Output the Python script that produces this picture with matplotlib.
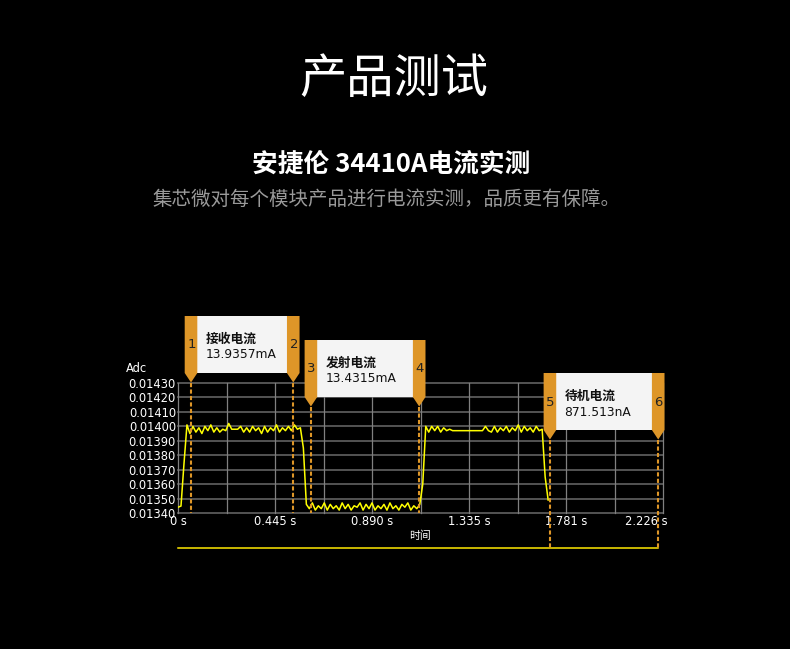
import numpy as np
import matplotlib
matplotlib.use("Agg")
import matplotlib.pyplot as plt
from matplotlib.patches import Polygon, Rectangle
from matplotlib.lines import Line2D

plt.rcParams['font.family'] = ['Noto Sans CJK SC', 'DejaVu Sans']
NUM_FONT = ['DejaVu Sans', 'Noto Sans CJK SC']

# ---------------- data ----------------
title = "产品测试"
subtitle = "安捷伦 34410A电流实测"
caption = "集芯微对每个模块产品进行电流实测，品质更有保障。"

sample_step_s = 0.0137
pre_rise = [0.013440, 0.013448, 0.013740]
receive_high = [0.01401, 0.01395, 0.01400, 0.01396, 0.01399, 0.01395, 0.01400, 0.01397, 0.01401, 0.01396,
                0.01399, 0.01396, 0.01398, 0.01397, 0.01402, 0.01398, 0.01398, 0.01398, 0.01400, 0.01396,
                0.01399, 0.01396, 0.01400, 0.01397, 0.01399, 0.01395, 0.01400, 0.01396, 0.01399, 0.01397,
                0.01401, 0.01396, 0.01399, 0.01397, 0.01400, 0.01397, 0.01401, 0.01398, 0.01399]
receive_fall = [0.013850]
transmit_low = [0.01346, 0.01343, 0.01347, 0.01342, 0.01345, 0.01343, 0.01347, 0.01342, 0.01346, 0.01343,
                0.01345, 0.01342, 0.01347, 0.01343, 0.01346, 0.01342, 0.01345, 0.01344, 0.01347, 0.01342,
                0.01346, 0.01343, 0.01347, 0.01342, 0.01345, 0.01343, 0.01346, 0.01342, 0.01347, 0.01343,
                0.01345, 0.01342, 0.01346, 0.01344, 0.01347, 0.01342, 0.01345, 0.01343, 0.01346]
transmit_rise = [0.013600]
standby_high_a = [0.01400, 0.01396, 0.01400, 0.01397, 0.01400, 0.01396, 0.01399, 0.01397, 0.01398]
standby_flat = [0.01397, 0.01397, 0.01397, 0.01397, 0.01397, 0.01397,
                0.01397, 0.01397, 0.01397, 0.01397, 0.01397]
standby_high_b = [0.01400, 0.01397, 0.01396, 0.01400, 0.01396, 0.01399, 0.01397, 0.01400, 0.01396, 0.01399,
                  0.01397, 0.01401, 0.01396, 0.01400, 0.01397, 0.01399, 0.01396, 0.01400, 0.01397, 0.01398]
standby_fall = [0.013650, 0.013490]

y_ticks = [0.01340, 0.01350, 0.01360, 0.01370, 0.01380, 0.01390, 0.01400, 0.01410, 0.01420, 0.01430]
y_tick_labels = ["0.01340", "0.01350", "0.01360", "0.01370", "0.01380",
                 "0.01390", "0.01400", "0.01410", "0.01420", "0.01430"]
x_ticks = [0.0, 0.445, 0.890, 1.335, 1.781, 2.226]
x_tick_labels = ["0 s", "0.445 s", "0.890 s", "1.335 s", "1.781 s", "2.226 s"]
x_max = 2.226
y_label = "Adc"
x_label = "时间"

cursor_times = [0.0597, 0.529, 0.610, 1.107, 1.707, 2.204]
cursor_names = ["1", "2", "3", "4", "5", "6"]
readout_names = ["接收电流", "发射电流", "待机电流"]
readout_values = ["13.9357mA", "13.4315mA", "871.513nA"]

current = (pre_rise + receive_high + receive_fall + transmit_low + transmit_rise
           + standby_high_a + standby_flat + standby_high_b + standby_fall)
times = np.arange(len(current)) * sample_step_s

# ---------------- layout ----------------
W, H = 790, 649
fig = plt.figure(figsize=(W / 100, H / 100), dpi=100, facecolor="black")

def fx(px):
    return px / W

def fy(py):
    return 1 - py / H

ax_l, ax_r, ax_t, ax_b = 178, 663, 383, 513
ax = fig.add_axes([fx(ax_l), fy(ax_b), (ax_r - ax_l) / W, (ax_b - ax_t) / H])
ax.set_facecolor("black")
ax.set_xlim(0, x_max)
ax.set_ylim(y_ticks[0], y_ticks[-1])
for s in ax.spines.values():
    s.set_visible(False)
ax.set_xticks([])
ax.set_yticks(y_ticks)
ax.set_yticklabels(y_tick_labels, color="white", fontsize=8.3, family=NUM_FONT)
ax.tick_params(axis="y", length=0, pad=1.5)

for yv in y_ticks:
    ax.axhline(yv, color="#5a5a5a", lw=1.3, zorder=1, clip_on=False)
for xv in np.linspace(0, x_max, 11):
    ax.axvline(xv, color="#808080", lw=0.9, zorder=1, clip_on=False)

ax.plot(times, current, color="#FFFF00", lw=1.1, zorder=3)

# tick labels on x
for xv, lab in zip(x_ticks, x_tick_labels):
    px = ax.transData.transform((xv, y_ticks[0]))[0]
    ha = "center"
    if xv == x_ticks[-1]:
        ha = "right"
        px += 5
    fig.text(fx(px), fy(521.5), lab, color="white", fontsize=8.3, ha=ha, va="center",
             family=NUM_FONT)
fig.text(fx(420), fy(536), x_label, color="white", fontsize=7.8, ha="center", va="center")
fig.text(fx(126), fy(368), y_label, color="white", fontsize=8.3, ha="left", va="center",
         family=NUM_FONT)

# titles
fig.text(fx(394), fy(80), title, color="white", fontsize=34, ha="center", va="center")
fig.text(fx(391), fy(165), subtitle, color="white", fontsize=18.5, ha="center",
         va="center", fontweight="bold")
fig.text(fx(386), fy(199), caption, color="#9a9a9a", fontsize=14, ha="center", va="center")

# cursors
orange = "#DE9628"
cpx = [ax.transData.transform((t, y_ticks[0]))[0] for t in cursor_times]
tops = [316, 340, 373]
tab_w = 12.6
box_h = 57
tip_d = 9.5
for k in range(3):
    top = tops[k]
    bot = top + box_h
    tip = bot + tip_d
    xl, xr = cpx[2 * k], cpx[2 * k + 1]
    fig.patches.append(Rectangle((fx(xl + tab_w / 2), fy(bot)), (xr - xl - tab_w) / W, box_h / H,
                                 transform=fig.transFigure, facecolor="#F4F4F4",
                                 edgecolor="none", zorder=5))
    for j, xc in enumerate((xl, xr)):
        poly = [(fx(xc - tab_w / 2), fy(top)), (fx(xc + tab_w / 2), fy(top)),
                (fx(xc + tab_w / 2), fy(bot)), (fx(xc), fy(tip)), (fx(xc - tab_w / 2), fy(bot))]
        fig.patches.append(Polygon(poly, closed=True, transform=fig.transFigure,
                                   facecolor=orange, edgecolor="none", zorder=6))
        fig.text(fx(xc + 0.5), fy(top + 29), cursor_names[2 * k + j], color="#222222",
                 fontsize=9.5, ha="center", va="center", zorder=7, family=NUM_FONT)
        end_y = 548 if k == 2 else ax_b
        fig.lines.append(Line2D([fx(xc), fx(xc)], [fy(tip), fy(end_y)], transform=fig.transFigure,
                                color=orange, lw=1.5, linestyle=(0, (2, 1.1)), zorder=8))
    fig.text(fx(xl + 14.7), fy(top + 23.3), readout_names[k], color="#111111", fontsize=9.2,
             fontweight="bold", ha="left", va="center", zorder=7)
    fig.text(fx(xl + 14.7), fy(top + 39), readout_values[k], color="#111111", fontsize=8.8,
             ha="left", va="center", zorder=7, family=NUM_FONT)

# bottom span line
fig.lines.append(Line2D([fx(ax_l), fx(cpx[-1])], [fy(548), fy(548)], transform=fig.transFigure,
                        color="#FFE800", lw=1.1, zorder=4))

fig.savefig("out.png", dpi=100, facecolor="black")
